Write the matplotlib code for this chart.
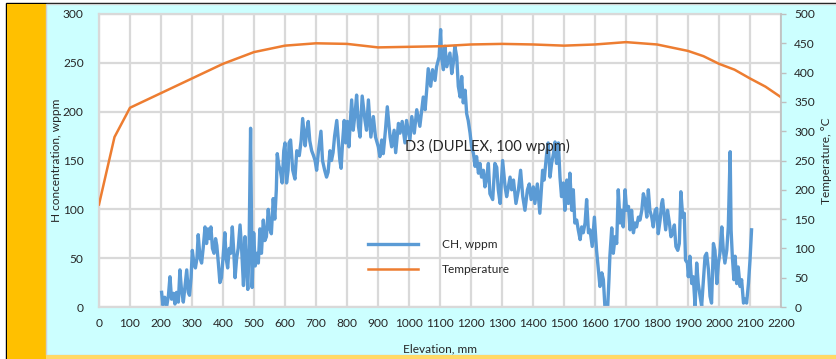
import matplotlib
matplotlib.use("Agg")
import matplotlib.pyplot as plt
from matplotlib.patches import Rectangle

plt.rcParams['font.family'] = ['Lato', 'DejaVu Sans']

# temperature profile along the elevation
elev_t = [0, 50, 100, 200, 300, 400, 450, 500, 600, 700, 800, 900, 1000, 1100,
          1200, 1300, 1400, 1500, 1600, 1700, 1800, 1900, 1950, 2000, 2050,
          2100, 2150, 2200]
temp_c = [175, 290, 340, 365, 390, 415, 425, 435, 446, 450, 449, 443, 444, 445,
          448, 449, 448, 446, 448, 452, 448, 437, 428, 415, 405,
          390, 376, 358]

# hydrogen concentration (CH) along the elevation
elev_ch = [202, 206, 212, 218, 224, 229, 234, 240, 245, 250, 256, 261, 266, 272,
           277, 283, 288, 292, 297, 301, 306, 311, 316, 320, 326, 331, 336, 342,
           347, 352, 356, 361, 366, 371, 376, 380, 385, 390, 395, 400, 406, 410,
           415, 420, 425, 430, 435, 439, 444, 449, 455, 460, 466, 471, 476, 480,
           484, 489, 494, 499, 504, 509, 514, 519, 524, 530, 535, 540, 546, 551,
           556, 562, 567, 572, 575, 580, 585, 591, 596, 600, 605, 610, 613, 618,
           625, 632, 638, 646, 652, 657, 662, 665, 670, 675, 680, 686, 692, 697,
           702, 708, 716, 721, 728, 734, 739, 745, 750, 755, 760, 767, 772, 777,
           781, 786, 791, 796, 801, 806, 815, 820, 826, 831, 837, 842, 849, 858,
           863, 869, 877, 885, 892, 901, 906, 912, 917, 924, 930, 939, 944, 952,
           957, 966, 971, 978, 987, 992, 1003, 1009, 1017, 1025, 1035, 1046, 1052,
           1057, 1062, 1070, 1076, 1084, 1089, 1097, 1102, 1105, 1111, 1116, 1122,
           1127, 1132, 1138, 1143, 1148, 1154, 1159, 1165, 1170, 1175, 1181, 1186,
           1191, 1197, 1202, 1208, 1213, 1218, 1224, 1229, 1234, 1240, 1245, 1251,
           1256, 1261, 1270, 1277, 1283, 1288, 1294, 1302, 1310, 1315, 1326, 1331,
           1337, 1345, 1353, 1360, 1367, 1374, 1382, 1388, 1394, 1401, 1406, 1414,
           1422, 1431, 1436, 1444, 1449, 1455, 1460, 1466, 1471, 1476, 1482, 1487,
           1492, 1498, 1503, 1509, 1514, 1519, 1525, 1530, 1535, 1541, 1546, 1552,
           1557, 1562, 1568, 1573, 1579, 1584, 1591, 1598, 1605, 1611, 1616, 1622,
           1627, 1632, 1641, 1645, 1648, 1654, 1659, 1665, 1670, 1675, 1681, 1686,
           1691, 1697, 1702, 1708, 1713, 1718, 1724, 1729, 1734, 1740, 1745, 1751,
           1756, 1761, 1767, 1772, 1777, 1783, 1788, 1794, 1799, 1804, 1810, 1815,
           1818, 1824, 1828, 1834, 1840, 1845, 1851, 1856, 1861, 1867, 1872, 1877,
           1883, 1888, 1892, 1898, 1901, 1906, 1912, 1917, 1923, 1928, 1933, 1939,
           1944, 1950, 1955, 1960, 1966, 1971, 1976, 1982, 1987, 1993, 1998, 2003,
           2009, 2014, 2019, 2025, 2030, 2036, 2039, 2043, 2048, 2052, 2057, 2062,
           2068, 2073, 2079, 2084, 2089, 2095, 2100, 2105]
ch_wppm = [15, 2, 10, 0, 12, 31, 8, 14, 3, 15, 5, 38, 18, 5,
           20, 38, 15, 12, 30, 58, 45, 40, 50, 74, 50, 45, 60, 82,
           65, 80, 70, 82, 60, 55, 70, 63, 45, 25, 30, 50, 76, 50,
           40, 60, 55, 82, 55, 30, 50, 60, 84, 60, 22, 72, 40, 18,
           60, 183, 20, 76, 42, 55, 45, 80, 55, 89, 68, 72, 100, 80,
           75, 111, 90, 120, 157, 145, 140, 127, 160, 168, 127, 140, 168, 171,
           140, 131, 160, 155, 170, 193, 175, 165, 180, 190, 170, 160, 155, 150,
           140, 160, 180, 150, 140, 133, 138, 160, 150, 158, 175, 191, 170, 150,
           142, 170, 191, 168, 190, 164, 212, 181, 198, 217, 185, 174, 216, 191,
           181, 212, 174, 195, 174, 164, 154, 171, 157, 181, 205, 174, 164, 181,
           158, 188, 178, 190, 168, 191, 171, 195, 178, 202, 185, 215, 202,
           222, 244, 226, 243, 232, 246, 256, 284, 256, 243, 267, 246,
           253, 260, 239, 250, 267, 256, 226, 215, 236, 209, 222, 198,
           191, 178, 164, 157, 144, 154, 137, 147, 133, 140, 123, 133,
           147, 116, 110, 147, 143, 120, 106, 150, 123, 113, 133, 120,
           130, 106, 120, 140, 113, 99, 120, 126, 110, 123, 106, 126,
           96, 140, 130, 157, 168, 133, 147, 157, 169, 147, 168, 133,
           113, 127, 99, 130, 106, 137, 99, 120, 86, 89, 79, 69,
           82, 76, 86, 110, 76, 79, 62, 92, 58, 38, 21, 35,
           28, 0, 0, 28, 52, 81, 55, 72, 65, 120, 86, 99,
           82, 120, 99, 103, 79, 99, 76, 86, 82, 92, 89, 99,
           116, 110, 92, 120, 99, 92, 82, 99, 101, 75, 89, 106,
           110, 92, 79, 99, 86, 72, 76, 84, 62, 58, 65, 118,
           92, 96, 48, 45, 31, 52, 24, 31, 0, 45, 24, 11,
           1, 28, 52, 55, 38, 11, 4, 65, 58, 24, 45, 55,
           82, 58, 45, 58, 82, 159, 79, 52, 28, 52, 24, 41,
           21, 28, 4, 8, 4, 24, 48, 79]

x_ticks = list(range(0, 2201, 100))
left_ticks = list(range(0, 301, 50))
right_ticks = list(range(0, 501, 50))

W, H = 836, 359
fig = plt.figure(figsize=(W / 100, H / 100), dpi=100, facecolor='white')

# chart frame decorations (pixel boxes -> figure fractions), kept behind the axes
def box(x0, y0, x1, y1, **kw):
    fig.patches.append(Rectangle((x0 / W, 1 - y1 / H), (x1 - x0) / W, (y1 - y0) / H,
                                 transform=fig.transFigure, figure=fig,
                                 zorder=-10, **kw))

box(6, 3, 840, 362, facecolor='none', edgecolor='black', lw=1.0)
box(7, 4, 46, 359, facecolor='#FFC000', edgecolor='none')
box(46, 4, 840, 355, facecolor='#CCFFFF', edgecolor='#D0D0D0', lw=1.0)
box(46, 355, 840, 359, facecolor='#FFD966', edgecolor='none')

ax = fig.add_axes([99 / W, 1 - 307 / H, 682 / W, 293 / H])
ax.set_facecolor('white')
ax2 = ax.twinx()

ln1, = ax.plot(elev_ch, ch_wppm, color='#5B9BD5', lw=2.4, label='CH, wppm',
               solid_joinstyle='round')
ln2, = ax2.plot(elev_t, temp_c, color='#ED7D31', lw=1.8, label='Temperature')

ax.set_xlim(0, 2200)
ax.set_ylim(0, 300)
ax2.set_ylim(0, 500)
ax.set_xticks(x_ticks)
ax.set_yticks(left_ticks)
ax2.set_yticks(right_ticks)

txt = '#262626'
fs = 8.6
ax.grid(True, color='#D9D9D9', lw=1.6)
ax.set_axisbelow(True)
for s in ['left', 'bottom', 'top']:
    ax.spines[s].set_color('#D9D9D9')
    ax.spines[s].set_linewidth(1.6)
ax.spines['right'].set_visible(False)
for s in ['left', 'bottom', 'top']:
    ax2.spines[s].set_visible(False)
ax2.spines['right'].set_color('#BFBFBF')
ax2.spines['right'].set_linewidth(1.2)

ax.tick_params(axis='both', length=0, labelsize=fs, colors=txt)
ax.tick_params(axis='y', pad=11)
ax.tick_params(axis='x', pad=8)
ax2.tick_params(axis='y', length=3.5, width=1.0, color='#BFBFBF', labelsize=fs,
                labelcolor=txt, pad=6, direction='out')

ax.set_xlabel('Elevation, mm', fontsize=fs, color=txt)
ax.xaxis.set_label_coords(0.5, -0.126)
ax.set_ylabel('H concentration, wppm', fontsize=fs, color=txt)
ax.yaxis.set_label_coords(-0.054, 0.5)
ax2.set_ylabel('Temperature, °C', fontsize=fs, color=txt)
ax2.yaxis.set_label_coords(1.059, 0.5)

ax.text(0.569, 0.549, 'D3 (DUPLEX, 100 wppm)', transform=ax.transAxes,
        fontsize=10.6, color=txt, ha='center', va='center')

ax2.legend([ln1, ln2], ['CH, wppm', 'Temperature'], loc='center left',
           bbox_to_anchor=(0.394, 0.171), frameon=False, fontsize=fs,
           handlelength=4.2, handletextpad=2.0, labelspacing=1.15,
           borderpad=0, borderaxespad=0, labelcolor=txt)

fig.savefig('out.png', dpi=100, facecolor=fig.get_facecolor())
